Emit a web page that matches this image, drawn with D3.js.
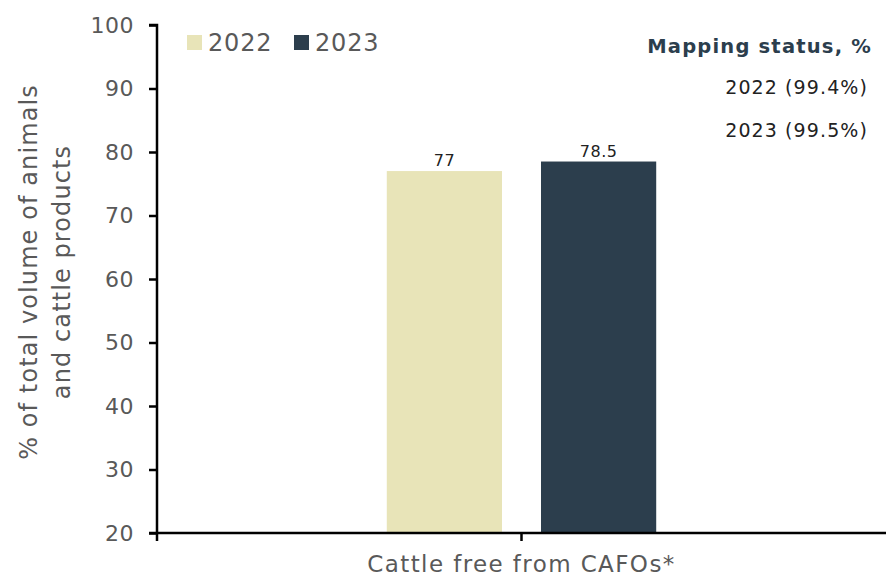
<!DOCTYPE html>
<html>
<head>
<meta charset="utf-8">
<script src="https://cdn.jsdelivr.net/npm/d3@7/dist/d3.min.js"></script>
<style>
  body { margin: 0; background: #fff; }
  svg { display: block; font-family: "DejaVu Sans", "Noto Sans", sans-serif; }
</style>
</head>
<body>
<svg id="chart" width="886" height="579"></svg>
<script>
// Share of cattle free from CAFOs, by year
const categories = ["Cattle free from CAFOs*"];
const years = ["2022", "2023"];
const values2022 = [77];
const values2023 = [78.5];
const yTicks = [20, 30, 40, 50, 60, 70, 80, 90, 100];
const mappingTitle = "Mapping status, %";
const mappingLines = ["2022 (99.4%)", "2023 (99.5%)"];
const colors = ["#e8e4b8", "#2c3e4d"];

const svg = d3.select("#chart");
const margin = { left: 157, right: 0, top: 25, bottom: 46 };
const W = 886, H = 579;
const plotBottom = H - margin.bottom;

const x = d3.scaleBand().domain(categories).range([margin.left, W]).paddingInner(0).paddingOuter(0);
const xs = d3.scaleBand().domain(years).range([0, x.bandwidth()]).paddingInner(0.253).paddingOuter(1.49);
const y = d3.scaleLinear().domain([20, 100]).range([plotBottom, margin.top]);

const series = [values2022, values2023];

// bars with value labels
categories.forEach((c, ci) => {
  years.forEach((yr, yi) => {
    const v = series[yi][ci];
    svg.append("rect")
      .attr("x", x(c) + xs(yr))
      .attr("y", y(v))
      .attr("width", xs.bandwidth())
      .attr("height", y(20) - y(v))
      .attr("fill", colors[yi]);
    svg.append("text")
      .attr("x", x(c) + xs(yr) + xs.bandwidth() / 2)
      .attr("y", y(v) - 5)
      .attr("text-anchor", "middle")
      .attr("font-size", 16)
      .attr("letter-spacing", 0.5)
      .attr("fill", "#222")
      .text(v);
  });
});

// y axis
const yAxis = svg.append("g")
  .attr("transform", `translate(${margin.left},0)`)
  .call(d3.axisLeft(y).tickValues(yTicks).tickSize(8).tickPadding(15));
yAxis.select(".domain").attr("stroke", "#000").attr("stroke-width", 2.5)
  .attr("d", `M-8,${y(100)}H0V${y(20)}`);
yAxis.selectAll(".tick line").attr("stroke", "#000").attr("stroke-width", 2.5);
yAxis.selectAll(".tick text").attr("font-size", 22).attr("letter-spacing", 0.5)
  .attr("fill", "#595959").attr("font-family", "DejaVu Sans, sans-serif");

// x axis
const xAxis = svg.append("g")
  .attr("transform", `translate(0,${plotBottom})`)
  .call(d3.axisBottom(x).tickSize(8).tickFormat(""));
xAxis.select(".domain").attr("stroke", "#000").attr("stroke-width", 2.5)
  .attr("d", `M${margin.left - 8},0H${W}M${margin.left},0V8`);
xAxis.selectAll(".tick line").attr("stroke", "#000").attr("stroke-width", 2.5);

svg.append("text")
  .attr("x", x(categories[0]) + x.bandwidth() / 2)
  .attr("y", 572)
  .attr("text-anchor", "middle")
  .attr("font-size", 23)
  .attr("letter-spacing", 1.4)
  .attr("fill", "#595959")
  .text(categories[0]);

// y title
const yTitle = svg.append("text")
  .attr("transform", `translate(44,272) rotate(-90)`)
  .attr("text-anchor", "middle")
  .attr("font-size", 24)
  .attr("letter-spacing", 1.1)
  .attr("fill", "#595959");
yTitle.append("tspan").attr("x", 0).attr("dy", "-0.3em").text("% of total volume of animals");
yTitle.append("tspan").attr("x", 0).attr("dy", "1.4em").text("and cattle products");

// legend
const legendX = [187, 294];
years.forEach((yr, i) => {
  svg.append("rect").attr("x", legendX[i]).attr("y", 35).attr("width", 15).attr("height", 15)
    .attr("fill", colors[i]);
  svg.append("text").attr("x", legendX[i] + 21).attr("y", 51)
    .attr("font-size", 24).attr("letter-spacing", 0.8).attr("fill", "#595959").text(yr);
});

// mapping status note
svg.append("text").attr("x", 872).attr("y", 53).attr("text-anchor", "end")
  .attr("font-size", 19.5).attr("font-weight", "bold").attr("letter-spacing", 1.2)
  .attr("fill", "#2c3e4d").text(mappingTitle);
mappingLines.forEach((t, i) => {
  svg.append("text").attr("x", 868).attr("y", 94 + i * 43).attr("text-anchor", "end")
    .attr("font-size", 19).attr("letter-spacing", 1.1).attr("fill", "#222").text(t);
});
</script>
</body>
</html>
